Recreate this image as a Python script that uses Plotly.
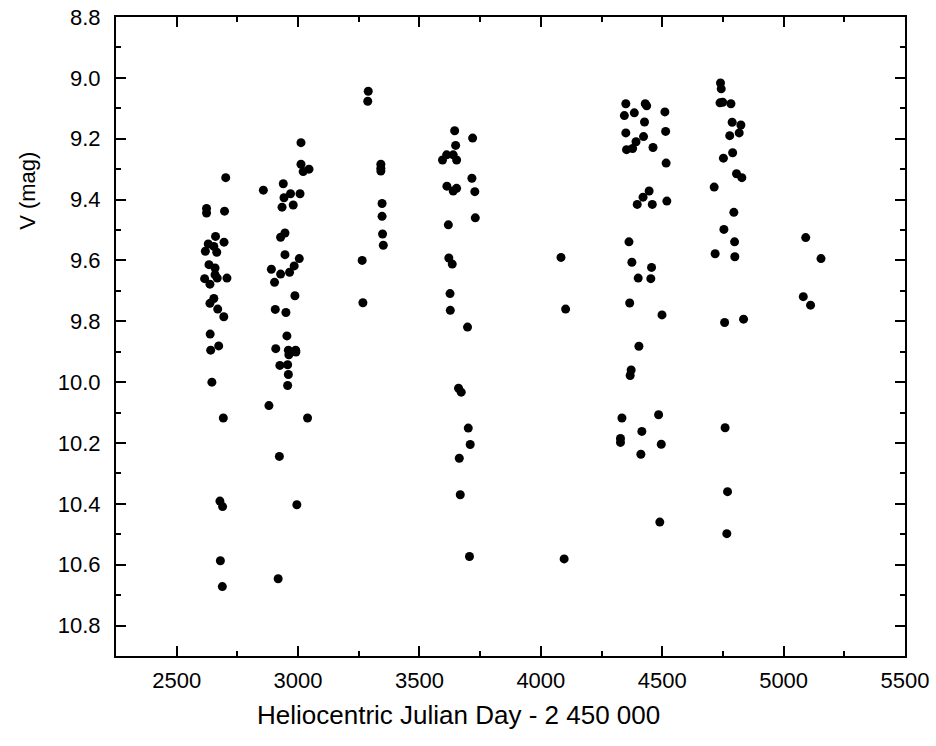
import plotly.graph_objects as go

# Heliocentric Julian Day - 2 450 000
hjd = [
    # season ~2600-2720
    2702, 2623, 2623, 2697, 2660, 2630, 2695, 2653, 2618, 2665,
    2633, 2658, 2658, 2615, 2667, 2637, 2707, 2653, 2637, 2669,
    2694, 2638, 2673, 2640, 2645, 2692, 2678, 2689, 2680, 2688,
    # season ~2850-3050
    3012, 3012, 3045, 3021, 2857, 2939, 2969, 2942, 3008, 2934,
    2980, 2946, 2928, 2946, 3005, 2984, 2890, 2928, 2965, 2903,
    2987, 2906, 2950, 2954, 2908, 2960, 2990, 2962, 2991, 2925,
    2957, 2960, 2957, 2880, 3039, 2923, 2995, 2918,
    # season ~3260-3350
    3289, 3287, 3341, 3341, 3341, 3346, 3346, 3348, 3351, 3264, 3267,
    # season ~3590-3730
    3645, 3719, 3649, 3612, 3595, 3639, 3653, 3716, 3613, 3639,
    3653, 3728, 3730, 3619, 3621, 3635, 3626, 3627, 3698, 3661,
    3672, 3701, 3709, 3664, 3668, 3706,
    # season ~4090
    4083, 4102, 4096,
    # season ~4330-4520
    4350, 4430, 4436, 4344, 4385, 4511, 4427, 4350, 4514, 4423,
    4392, 4353, 4378, 4462, 4516, 4446, 4421, 4397, 4459, 4519,
    4363, 4375, 4456, 4401, 4453, 4366, 4499, 4404, 4372, 4368,
    4334, 4485, 4416, 4328, 4328, 4496, 4412, 4490,
    # season ~4710-4840
    4740, 4743, 4738, 4749, 4783, 4788, 4824, 4778, 4817, 4790,
    4752, 4806, 4828, 4714, 4795, 4754, 4798, 4718, 4799, 4757,
    4835, 4759, 4769, 4766,
    # season ~5080-5160
    5091, 5154, 5081, 5111,
]

vmag = [
    9.328, 9.429, 9.444, 9.438, 9.521, 9.546, 9.540, 9.554, 9.570, 9.573,
    9.614, 9.625, 9.647, 9.660, 9.658, 9.678, 9.658, 9.725, 9.741, 9.760,
    9.785, 9.842, 9.881, 9.895, 10.000, 10.118, 10.391, 10.409, 10.587, 10.672,
    9.213, 9.284, 9.300, 9.308, 9.369, 9.348, 9.381, 9.394, 9.381, 9.425,
    9.418, 9.510, 9.524, 9.581, 9.594, 9.618, 9.629, 9.645, 9.639, 9.672,
    9.716, 9.761, 9.771, 9.848, 9.890, 9.895, 9.895, 9.910, 9.901, 9.945,
    9.943, 9.975, 10.011, 10.077, 10.118, 10.244, 10.403, 10.646,
    9.044, 9.077, 9.284, 9.297, 9.306, 9.413, 9.455, 9.513, 9.550, 9.600, 9.739,
    9.174, 9.198, 9.222, 9.253, 9.270, 9.253, 9.270, 9.330, 9.356, 9.372,
    9.363, 9.374, 9.460, 9.483, 9.592, 9.612, 9.709, 9.764, 9.819, 10.020,
    10.033, 10.151, 10.205, 10.250, 10.370, 10.573,
    9.590, 9.760, 10.581,
    9.085, 9.085, 9.092, 9.124, 9.115, 9.112, 9.145, 9.181, 9.176, 9.193,
    9.210, 9.236, 9.232, 9.229, 9.280, 9.372, 9.392, 9.416, 9.416, 9.405,
    9.539, 9.606, 9.623, 9.658, 9.660, 9.740, 9.779, 9.882, 9.960, 9.978,
    10.118, 10.107, 10.162, 10.185, 10.198, 10.204, 10.237, 10.460,
    9.017, 9.036, 9.082, 9.080, 9.085, 9.146, 9.155, 9.190, 9.181, 9.246,
    9.264, 9.315, 9.328, 9.359, 9.442, 9.498, 9.539, 9.578, 9.588, 9.804,
    9.793, 10.150, 10.360, 10.498,
    9.525, 9.594, 9.719, 9.747,
]

x_ticks = [2500, 3000, 3500, 4000, 4500, 5000, 5500]
y_ticks = [8.8, 9.0, 9.2, 9.4, 9.6, 9.8, 10.0, 10.2, 10.4, 10.6, 10.8]

font_family = "Liberation Sans, Arial, sans-serif"

fig = go.Figure()
fig.add_trace(go.Scatter(
    x=hjd, y=vmag, mode="markers",
    marker=dict(color="black", size=9, line=dict(width=0)),
    showlegend=False, hoverinfo="skip",
))

axis_common = dict(
    showline=True, linecolor="black", linewidth=2,
    mirror="ticks", ticks="inside", ticklen=10, tickwidth=2, tickcolor="black",
    showgrid=False, zeroline=False, automargin=False, ticklabeloverflow="allow",
    tickfont=dict(family=font_family, size=22, color="black"),
)

fig.update_layout(
    width=936, height=746,
    margin=dict(l=116, r=31, t=17, b=90),
    paper_bgcolor="white", plot_bgcolor="white",
    font=dict(family=font_family, color="black"),
    xaxis=dict(
        range=[2250, 5500], tickvals=x_ticks, ticktext=[str(v) for v in x_ticks],
        ticklabelstandoff=4,
        minor=dict(ticks="inside", ticklen=5, tickwidth=2, tickcolor="black", dtick=250, tick0=2500),
        **axis_common,
    ),
    yaxis=dict(
        range=[10.9, 8.8], tickvals=y_ticks, ticktext=[f"{v:.1f}" for v in y_ticks],
        ticklabelstandoff=9,
        minor=dict(ticks="inside", ticklen=5, tickwidth=2, tickcolor="black", dtick=0.1, tick0=8.8),
        **axis_common,
    ),
    annotations=[
        dict(text="Heliocentric Julian Day - 2 450 000", xref="paper", yref="paper",
             x=0.4347, y=-0.0923, xanchor="center", yanchor="middle", showarrow=False,
             font=dict(family=font_family, size=26, color="black")),
        dict(text="V (mag)", xref="paper", yref="paper", textangle=-90,
             x=-0.1115, y=0.728, xanchor="center", yanchor="middle", showarrow=False,
             font=dict(family=font_family, size=22, color="black")),
    ],
)

fig.write_html("out.html", config={"displayModeBar": False},
               post_script="document.body.style.margin='0';")
